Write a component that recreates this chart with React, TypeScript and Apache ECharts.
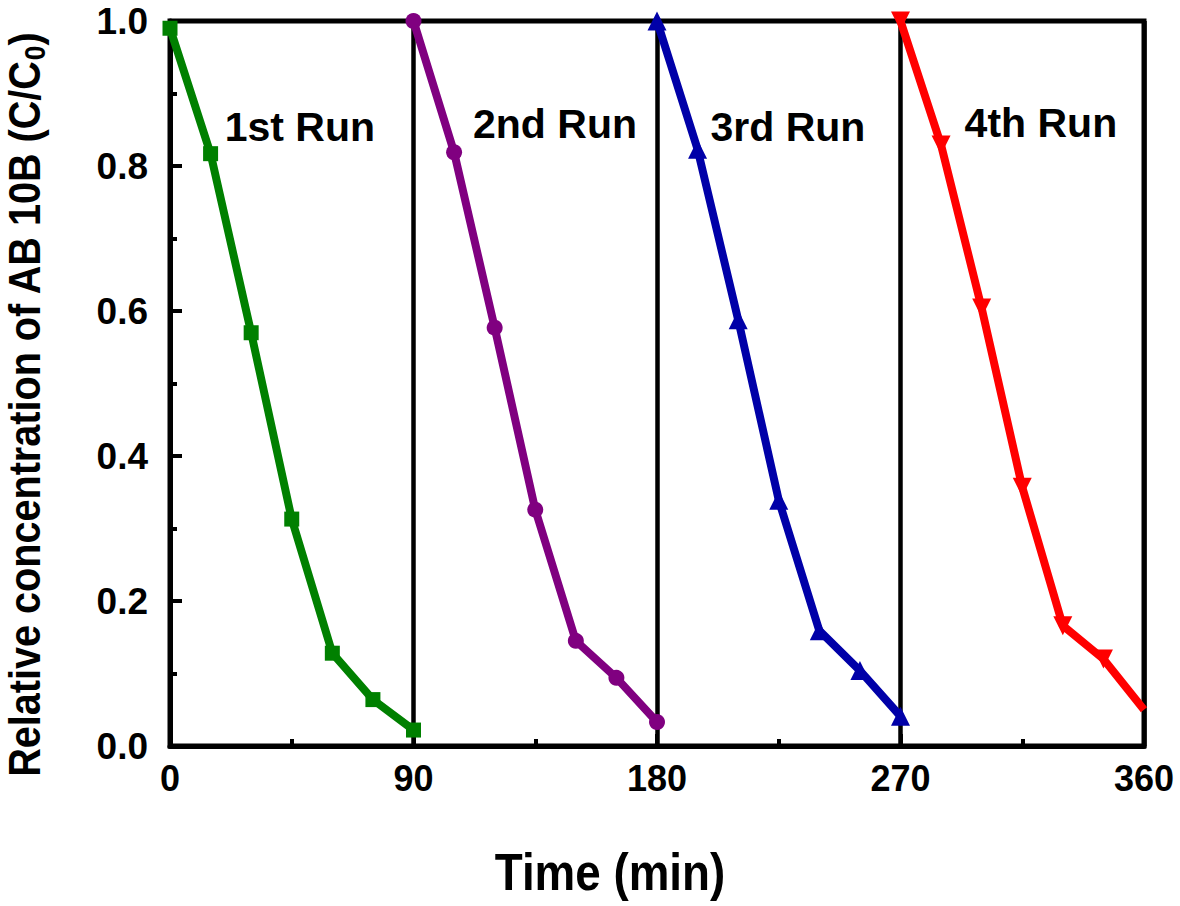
import React, { useEffect, useRef } from "react";
import * as echarts from "echarts";

const time1 = [0, 15, 30, 45, 60, 75, 90];
const conc1 = [0.99, 0.817, 0.57, 0.313, 0.128, 0.064, 0.022];
const time2 = [90, 105, 120, 135, 150, 165, 180];
const conc2 = [1.0, 0.819, 0.577, 0.326, 0.145, 0.094, 0.033];
const time3 = [180, 195, 210, 225, 240, 255, 270];
const conc3 = [1.0, 0.823, 0.588, 0.339, 0.159, 0.104, 0.041];
const time4 = [270, 285, 300, 315, 330, 345, 360];
const conc4 = [1.0, 0.829, 0.604, 0.357, 0.166, 0.12, 0.05];

const runNames = ["1st Run", "2nd Run", "3rd Run", "4th Run"];
const runLabelX = [48, 142.3, 228.4, 321.9];
const runLabelY = [0.854, 0.858, 0.854, 0.859];

const runColors = ["#008000", "#800080", "#0000a8", "#ff0000"];
const runSymbols = ["rect", "circle", "triangle", "triangle"];
const runSymbolSizes = [15, 16, 19, 19];
const runSymbolRotate = [0, 0, 0, 180];

const xTicks = [0, 90, 180, 270, 360];
const yTicks = [0, 0.2, 0.4, 0.6, 0.8, 1.0];

const FONT = "'Liberation Sans', Arial, Helvetica, sans-serif";

export default function App() {
  const ref = useRef<HTMLDivElement>(null);

  useEffect(() => {
    document.body.style.margin = "0";
    if (!ref.current) return;
    const chart = echarts.init(ref.current, undefined, { renderer: "svg" });

    const times = [time1, time2, time3, time4];
    const concs = [conc1, conc2, conc3, conc4];

    const series = times.map((t, i) => ({
      type: "line",
      name: runNames[i],
      data: t.map((x, j) => {
        const item: any = { value: [x, concs[i][j]] };
        if (i === 3 && j === t.length - 1) item.symbol = "none";
        return item;
      }),
      symbol: runSymbols[i],
      symbolSize: runSymbolSizes[i],
      symbolRotate: runSymbolRotate[i],
      showSymbol: true,
      lineStyle: { color: runColors[i], width: 8 },
      itemStyle: { color: runColors[i], borderWidth: 0 },
      clip: true,
      z: 3,
      markPoint: {
        symbol: "rect",
        symbolSize: 1,
        itemStyle: { color: "transparent" },
        label: {
          show: true,
          position: "inside",
          formatter: runNames[i],
          fontSize: 41,
          fontWeight: "bold",
          fontFamily: FONT,
          color: "#000",
        },
        data: [{ coord: [runLabelX[i], runLabelY[i]] }],
      },
    }));

    chart.setOption({
      animation: false,
      backgroundColor: "#ffffff",
      grid: {
        left: 170,
        right: 36,
        top: 21,
        bottom: 160,
        show: true,
        borderColor: "#000",
        borderWidth: 5,
        backgroundColor: "transparent",
      },
      xAxis: {
        type: "value",
        min: xTicks[0],
        max: xTicks[xTicks.length - 1],
        interval: 90,
        axisLine: { show: true, lineStyle: { color: "#000", width: 5 } },
        axisTick: { show: true, inside: true, length: 12, lineStyle: { color: "#000", width: 4 } },
        minorTick: { show: true, splitNumber: 2, length: 7, lineStyle: { color: "#000", width: 4 } },
        splitLine: { show: true, lineStyle: { color: "#000", width: 4.5 } },
        axisLabel: {
          show: true,
          margin: 14,
          fontSize: 36,
          fontWeight: "bold",
          fontFamily: FONT,
          color: "#000",
        },
      },
      yAxis: {
        type: "value",
        min: yTicks[0],
        max: yTicks[yTicks.length - 1],
        interval: 0.2,
        axisLine: { show: true, lineStyle: { color: "#000", width: 5 } },
        axisTick: { show: true, inside: true, length: 12, lineStyle: { color: "#000", width: 4 } },
        minorTick: { show: true, splitNumber: 2, length: 7, lineStyle: { color: "#000", width: 4 } },
        splitLine: { show: false },
        axisLabel: {
          show: true,
          margin: 22,
          fontSize: 37,
          fontWeight: "bold",
          fontFamily: FONT,
          color: "#000",
          formatter: (v: number) => v.toFixed(1),
        },
      },
      graphic: [
        {
          type: "text",
          x: 610,
          y: 872,
          scaleX: 0.88,
          style: {
            text: "Time (min)",
            fontSize: 52,
            fontWeight: "bold",
            fontFamily: FONT,
            fill: "#000",
            align: "center",
            verticalAlign: "middle",
          },
        },
        {
          type: "text",
          x: 25,
          y: 405,
          rotation: Math.PI / 2,
          scaleX: 0.88,
          style: {
            text: "Relative concentration of AB 10B (C/C{sub|0})",
            fontSize: 45,
            fontWeight: "bold",
            fontFamily: FONT,
            fill: "#000",
            align: "center",
            verticalAlign: "middle",
            rich: {
              sub: {
                fontSize: 30,
                fontWeight: "bold",
                fontFamily: FONT,
                fill: "#000",
                verticalAlign: "bottom",
                padding: [18, 0, 0, 0],
              },
            },
          },
        },
      ],
      series,
    });

    return () => chart.dispose();
  }, []);

  return <div ref={ref} style={{ width: 1180, height: 906 }} />;
}
